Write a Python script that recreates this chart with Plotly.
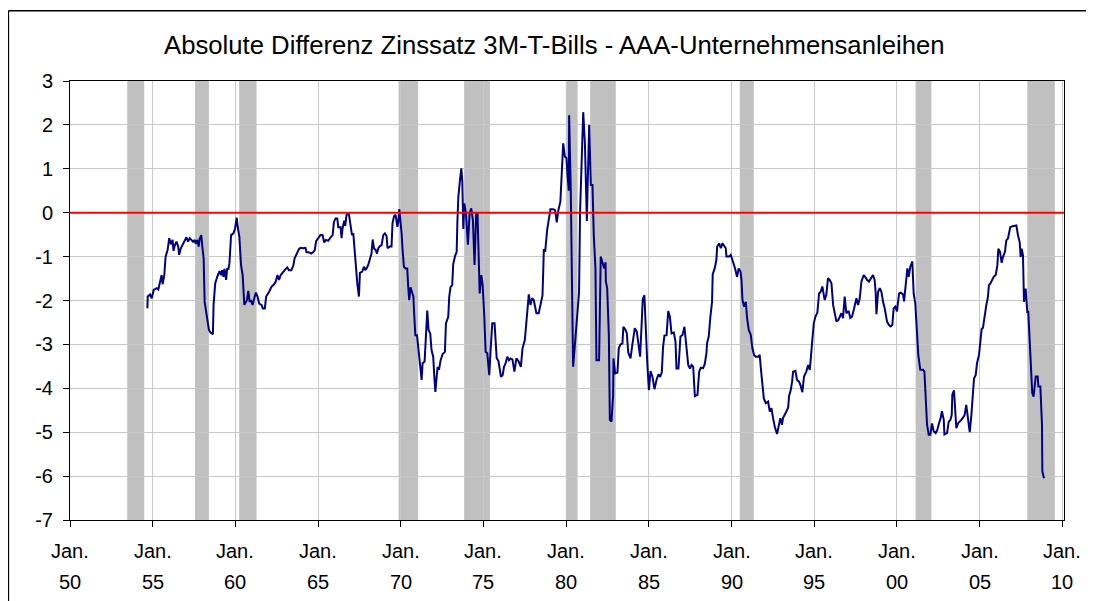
import plotly.graph_objects as go

title_text = "Absolute Differenz Zinssatz 3M-T-Bills - AAA-Unternehmensanleihen"

# decimal year of each read point
years = [
    1954.68, 1954.70, 1954.84, 1954.94, 1955.06, 1955.24, 1955.34, 1955.44, 1955.54, 1955.60,
    1955.70, 1955.78, 1955.90, 1956.00, 1956.10, 1956.20, 1956.26, 1956.34, 1956.44, 1956.54,
    1956.60, 1956.70, 1956.84, 1956.94, 1957.04, 1957.14, 1957.24, 1957.34, 1957.44, 1957.54,
    1957.60, 1957.70, 1957.78, 1957.84, 1957.94, 1958.00, 1958.08, 1958.14, 1958.24, 1958.34,
    1958.40, 1958.50, 1958.64, 1958.68, 1958.78, 1958.90, 1959.04, 1959.14, 1959.20, 1959.28,
    1959.34, 1959.44, 1959.50, 1959.58, 1959.64, 1959.74, 1959.88, 1959.98, 1960.08, 1960.14,
    1960.24, 1960.34, 1960.44, 1960.54, 1960.64, 1960.70, 1960.78, 1960.86, 1960.94, 1961.04,
    1961.14, 1961.24, 1961.34, 1961.44, 1961.58, 1961.66, 1961.78, 1961.86, 1962.04, 1962.18,
    1962.34, 1962.44, 1962.54, 1962.64, 1962.74, 1962.90, 1963.04, 1963.14, 1963.24, 1963.38,
    1963.50, 1963.58, 1963.70, 1963.84, 1963.94, 1964.10, 1964.24, 1964.30, 1964.44, 1964.58,
    1964.70, 1964.80, 1964.88, 1965.00, 1965.14,
    1965.27, 1965.37, 1965.47, 1965.61, 1965.76, 1965.88, 1965.96, 1966.06, 1966.16, 1966.22,
    1966.36, 1966.42, 1966.48, 1966.58, 1966.64, 1966.72, 1966.86, 1966.96, 1967.05, 1967.13,
    1967.21, 1967.27, 1967.37, 1967.47, 1967.53, 1967.67, 1967.77, 1967.85, 1967.93, 1968.03,
    1968.13, 1968.23, 1968.30, 1968.38, 1968.48, 1968.56, 1968.64, 1968.74, 1968.84, 1968.94,
    1969.04, 1969.14, 1969.20, 1969.34, 1969.44, 1969.50, 1969.59, 1969.69, 1969.79, 1969.85,
    1969.91, 1969.99, 1970.05, 1970.11, 1970.19, 1970.29, 1970.39, 1970.45, 1970.51, 1970.59,
    1970.67, 1970.76, 1970.82, 1970.88, 1970.98, 1971.06, 1971.16, 1971.26, 1971.32, 1971.44,
    1971.52, 1971.60, 1971.68, 1971.78, 1971.86, 1971.96, 1972.03, 1972.09, 1972.17, 1972.23,
    1972.31, 1972.41, 1972.53, 1972.67, 1972.73, 1972.87, 1972.93, 1973.01, 1973.11, 1973.17,
    1973.28, 1973.38, 1973.42, 1973.48, 1973.58, 1973.66, 1973.72, 1973.78, 1973.84, 1973.94,
    1974.06, 1974.16, 1974.26, 1974.36, 1974.46, 1974.56, 1974.64, 1974.70, 1974.77, 1974.87,
    1974.95, 1975.05, 1975.13, 1975.23, 1975.35, 1975.43, 1975.53, 1975.67, 1975.80, 1975.90,
    1976.00, 1976.06, 1976.16, 1976.24, 1976.34, 1976.44, 1976.54, 1976.64,
    1976.75, 1976.87, 1976.99, 1977.13, 1977.26, 1977.36, 1977.50, 1977.60, 1977.74, 1977.84,
    1977.94, 1978.04, 1978.20, 1978.34, 1978.46, 1978.57, 1978.65, 1978.73, 1978.85, 1978.95,
    1979.05, 1979.21, 1979.33, 1979.43, 1979.53, 1979.65, 1979.72, 1979.82, 1979.92, 1980.02,
    1980.08, 1980.16, 1980.18, 1980.28, 1980.36, 1980.42, 1980.56, 1980.68, 1980.78, 1980.84,
    1980.92, 1981.03, 1981.13, 1981.19, 1981.25, 1981.31, 1981.39, 1981.49, 1981.59, 1981.67,
    1981.77, 1981.83, 1981.99, 1982.09, 1982.19, 1982.30, 1982.38, 1982.40, 1982.48, 1982.58,
    1982.64, 1982.74, 1982.84, 1982.86, 1982.96, 1983.10, 1983.18, 1983.28, 1983.40, 1983.46,
    1983.59, 1983.67, 1983.75, 1983.89, 1984.01, 1984.15, 1984.27, 1984.37, 1984.47, 1984.57,
    1984.63, 1984.73, 1984.82, 1984.90, 1985.00, 1985.10, 1985.22, 1985.34, 1985.46, 1985.58,
    1985.68, 1985.78, 1985.86, 1985.94, 1986.07, 1986.17, 1986.27, 1986.37, 1986.51, 1986.61,
    1986.67, 1986.79, 1986.91, 1987.03, 1987.15, 1987.28, 1987.38, 1987.48, 1987.58, 1987.68,
    1987.78, 1987.94, 1988.04,
    1988.14, 1988.28, 1988.38, 1988.48, 1988.52, 1988.62, 1988.72, 1988.82, 1988.86, 1988.98,
    1989.08, 1989.13, 1989.25, 1989.35, 1989.45, 1989.55, 1989.65, 1989.69, 1989.85, 1989.95,
    1990.03, 1990.13, 1990.23, 1990.33, 1990.43, 1990.54, 1990.60, 1990.66, 1990.76, 1990.86,
    1990.94, 1991.04, 1991.16, 1991.26, 1991.36, 1991.46, 1991.60, 1991.70, 1991.80, 1991.95,
    1992.07, 1992.21, 1992.31, 1992.41, 1992.51, 1992.61, 1992.75, 1992.87, 1992.95, 1993.05,
    1993.11, 1993.26, 1993.42, 1993.48, 1993.58, 1993.66, 1993.72, 1993.86, 1993.96, 1994.08,
    1994.16, 1994.28, 1994.38, 1994.52, 1994.63, 1994.73, 1994.79, 1994.89, 1994.97, 1995.07,
    1995.19, 1995.29, 1995.39, 1995.49, 1995.57, 1995.63, 1995.73, 1995.83, 1995.93, 1996.04,
    1996.14, 1996.24, 1996.34, 1996.46, 1996.54, 1996.64, 1996.74, 1996.84, 1996.94, 1997.08,
    1997.18, 1997.28, 1997.39, 1997.55, 1997.65, 1997.75, 1997.85, 1997.99, 1998.11, 1998.19,
    1998.31, 1998.45, 1998.55, 1998.65, 1998.71, 1998.76, 1998.86, 1998.96, 1999.06, 1999.16,
    1999.26, 1999.40, 1999.52, 1999.62, 1999.72, 1999.80, 1999.90, 2000.00, 2000.13,
    2000.23, 2000.37, 2000.43, 2000.53, 2000.63, 2000.71, 2000.81, 2000.93, 2001.01, 2001.11,
    2001.21, 2001.29, 2001.41, 2001.58, 2001.66, 2001.74, 2001.82, 2001.92, 2002.02, 2002.12,
    2002.22, 2002.34, 2002.44, 2002.54, 2002.64, 2002.72, 2002.83, 2002.87, 2003.03, 2003.13,
    2003.23, 2003.31, 2003.35, 2003.45, 2003.53, 2003.59, 2003.69, 2003.79, 2003.89, 2003.99,
    2004.09, 2004.19, 2004.30, 2004.40, 2004.50, 2004.60, 2004.66, 2004.76, 2004.84, 2004.96,
    2005.04, 2005.12, 2005.20, 2005.30, 2005.40, 2005.50, 2005.56, 2005.65, 2005.75, 2005.85,
    2005.97, 2006.07, 2006.13, 2006.23, 2006.33, 2006.41, 2006.53, 2006.61, 2006.71, 2006.77,
    2006.85, 2006.98, 2007.12, 2007.22, 2007.32, 2007.42, 2007.48, 2007.54, 2007.62, 2007.68,
    2007.78, 2007.88, 2007.94, 2008.02, 2008.12, 2008.18, 2008.26, 2008.39, 2008.51, 2008.55,
    2008.67, 2008.77, 2008.79, 2008.89,
]

# spread 3M T-Bills minus AAA corporate bonds, percentage points
spread = [
    -2.18, -1.91, -1.86, -1.95, -1.76, -1.72, -1.75, -1.61, -1.42, -1.63,
    -1.43, -1.00, -0.85, -0.58, -0.72, -0.62, -0.87, -0.74, -0.66, -0.77,
    -0.96, -0.81, -0.70, -0.66, -0.56, -0.66, -0.58, -0.62, -0.66, -0.62,
    -0.71, -0.62, -0.77, -0.60, -0.51, -0.77, -1.04, -2.03, -2.26, -2.44,
    -2.67, -2.73, -2.77, -2.10, -1.61, -1.46, -1.33, -1.42, -1.31, -1.46,
    -1.28, -1.53, -1.28, -1.28, -1.15, -0.51, -0.47, -0.36, -0.11, -0.32,
    -0.55, -1.19, -1.42, -2.10, -2.03, -1.99, -1.78, -2.03, -1.99, -2.10,
    -1.95, -1.82, -1.91, -2.07, -2.10, -2.18, -2.18, -1.91, -1.80, -1.69,
    -1.63, -1.57, -1.42, -1.53, -1.42, -1.33, -1.28, -1.25, -1.31, -1.31,
    -1.21, -1.04, -0.93, -0.83, -0.80, -0.81, -0.80, -0.90, -0.90, -0.93,
    -0.90, -0.85, -0.65, -0.58, -0.51,
    -0.51, -0.68, -0.62, -0.64, -0.56, -0.51, -0.21, -0.13, -0.13, -0.33,
    -0.33, -0.58, -0.36, -0.18, -0.30, -0.05, -0.02, -0.26, -0.51, -0.47,
    -0.85, -1.27, -1.61, -1.91, -1.37, -1.34, -1.23, -1.31, -1.27, -1.19,
    -1.08, -0.93, -0.61, -0.81, -0.85, -0.93, -0.81, -0.76, -0.74, -0.51,
    -0.47, -0.53, -0.81, -0.77, -0.77, -0.24, -0.08, -0.05, -0.32, -0.21,
    0.08, -0.17, -0.47, -0.85, -1.23, -1.27, -1.27, -1.69, -1.99, -1.70,
    -1.80, -1.91, -2.37, -2.79, -2.79, -3.13, -3.39, -3.81, -3.43, -3.39,
    -2.82, -2.23, -2.67, -2.75, -3.13, -3.28, -3.74, -4.08, -3.74, -3.51,
    -3.58, -3.36, -3.22, -3.17, -2.52, -2.37, -1.91, -1.69, -1.65, -1.17,
    -0.99, -0.89, -0.24, 0.36, 0.74, 1.01, 0.71, -0.37, 0.21, -0.02,
    -0.73, -0.02, 0.10, -0.17, -1.19, -0.02, -0.02, -1.08, -1.84, -1.42,
    -1.65, -2.37, -3.17, -3.20, -3.70, -3.13, -2.52, -2.52, -3.32, -3.37,
    -3.58, -3.74, -3.70, -3.51, -3.43, -3.28, -3.36, -3.32,
    -3.34, -3.62, -3.32, -3.39, -3.51, -3.09, -2.90, -2.48, -1.86, -2.10,
    -1.95, -1.99, -2.29, -2.29, -2.07, -1.88, -0.83, -0.89, -0.39, -0.09,
    0.08, 0.08, 0.06, -0.22, 0.06, 0.25, 0.82, 1.58, 1.28, 1.24,
    0.86, 0.50, 2.22, 0.48, -1.88, -3.51, -2.86, -2.33, -1.80, 0.02,
    1.16, 2.29, 1.62, 0.71, -0.19, 0.78, 2.00, 0.63, 0.63, -0.51,
    -1.27, -3.36, -3.36, -1.00, -1.12, -1.27, -1.13, -1.57, -1.72, -2.79,
    -4.72, -4.76, -4.15, -3.32, -3.66, -3.64, -3.09, -3.00, -2.98, -2.60,
    -2.67, -2.75, -3.18, -3.32, -2.98, -2.63, -2.71, -3.01, -3.28, -2.48,
    -1.97, -1.88, -2.79, -3.39, -4.04, -3.61, -3.74, -4.02, -3.81, -3.68,
    -3.74, -3.64, -3.05, -2.80, -2.79, -2.24, -2.37, -2.75, -2.73, -2.94,
    -3.55, -3.55, -2.82, -2.79, -2.60, -3.09, -3.47, -3.55, -3.47, -3.51,
    -4.18, -4.15, -3.62,
    -3.53, -3.54, -3.45, -3.20, -2.97, -2.82, -2.37, -2.03, -1.40, -1.27,
    -1.08, -0.77, -0.70, -0.81, -0.70, -0.77, -0.81, -1.00, -1.00, -0.96,
    -1.08, -1.17, -1.30, -1.46, -1.27, -1.34, -1.53, -1.99, -2.14, -2.03,
    -2.40, -2.67, -2.78, -3.09, -3.24, -3.28, -3.28, -3.24, -3.66, -4.23,
    -4.34, -4.30, -4.53, -4.45, -4.68, -4.87, -5.04, -4.83, -4.68, -4.83,
    -4.68, -4.57, -4.44, -4.17, -4.04, -3.85, -3.62, -3.60, -3.81, -3.85,
    -3.92, -4.09, -3.73, -3.62, -3.47, -3.58, -3.28, -2.94, -2.52, -2.37,
    -2.27, -1.84, -1.80, -1.68, -1.87, -1.99, -1.87, -1.49, -1.53, -1.61,
    -2.10, -2.29, -2.48, -2.44, -2.37, -2.29, -2.40, -1.91, -2.29, -2.24,
    -2.40, -2.37, -2.21, -1.95, -2.10, -1.95, -1.57, -1.42, -1.48, -1.53,
    -1.57, -1.46, -1.42, -1.53, -1.80, -2.31, -1.80, -1.72, -1.80, -2.03,
    -2.18, -2.48, -2.56, -2.59, -2.56, -2.18, -2.14, -2.25, -1.84,
    -1.82, -1.86, -2.02, -1.54, -1.27, -1.46, -1.23, -1.11, -1.84, -2.07,
    -2.79, -3.24, -3.58, -3.58, -3.62, -4.38, -4.83, -5.06, -5.06, -4.80,
    -4.98, -5.02, -4.95, -4.80, -4.68, -4.52, -4.72, -5.05, -5.02, -4.76,
    -4.72, -4.61, -4.14, -4.05, -4.45, -4.91, -4.80, -4.77, -4.72, -4.67,
    -4.61, -4.38, -4.68, -5.00, -4.61, -4.15, -3.77, -3.70, -3.43, -3.24,
    -2.98, -2.65, -2.62, -2.33, -2.11, -1.92, -1.65, -1.61, -1.54, -1.46,
    -1.42, -1.20, -0.82, -0.89, -1.14, -1.01, -0.89, -0.63, -0.59, -0.50,
    -0.33, -0.31, -0.29, -0.29, -0.52, -0.67, -1.01, -0.82, -0.97, -2.03,
    -1.73, -2.26, -2.26, -2.86, -3.47, -4.11, -4.19, -3.73, -3.73, -3.96,
    -3.96, -4.83, -5.89, -6.05,
]

# recession periods (decimal years)
recession_start = [1953.46, 1957.56, 1960.23, 1969.87, 1973.83, 1979.98, 1981.45, 1990.50, 2001.13, 2007.88]
recession_end = [1954.49, 1958.40, 1961.28, 1971.05, 1975.39, 1980.69, 1983.00, 1991.34, 2002.08, 2009.55]

tick_years = [1950, 1955, 1960, 1965, 1970, 1975, 1980, 1985, 1990, 1995, 2000, 2005, 2010]
tick_month = "Jan."
tick_year_labels = ["50", "55", "60", "65", "70", "75", "80", "85", "90", "95", "00", "05", "10"]
y_ticks = [3, 2, 1, 0, -1, -2, -3, -4, -5, -6, -7]

X_MIN, X_MAX = 1950, 2010.1
Y_MIN, Y_MAX = -7, 3

FONT = "Arial, Liberation Sans, sans-serif"

fig = go.Figure()

fig.add_trace(go.Scatter(
    x=years, y=spread, mode="lines",
    line=dict(color="#000080", width=2),
    hoverinfo="x+y", showlegend=False,
))
fig.add_trace(go.Scatter(
    x=[X_MIN, X_MAX], y=[0, 0], mode="lines",
    line=dict(color="#ff0000", width=2),
    hoverinfo="skip", showlegend=False,
))

shapes = []
for s, e in zip(recession_start, recession_end):
    shapes.append(dict(type="rect", xref="x", yref="y", x0=s, x1=e, y0=Y_MIN, y1=Y_MAX,
                       fillcolor="#c0c0c0", line=dict(width=0), layer="below"))
# outer chart border: left and top edges (the rest lies outside the picture)
shapes.append(dict(type="line", xref="paper", yref="paper", x0=-0.062, x1=-0.062, y0=-0.3, y1=1.16,
                   line=dict(color="#000000", width=1.5), layer="above"))
shapes.append(dict(type="line", xref="paper", yref="paper", x0=-0.062, x1=1.2, y0=1.16, y1=1.16,
                   line=dict(color="#000000", width=1.5), layer="above"))

annotations = []
for ty, lab in zip(tick_years, tick_year_labels):
    annotations.append(dict(x=ty, xref="x", y=-0.0706, yref="paper", text=tick_month,
                            showarrow=False, xanchor="center", yanchor="middle",
                            font=dict(family=FONT, size=20, color="#000000")))
    annotations.append(dict(x=ty, xref="x", y=-0.1412, yref="paper", text=lab,
                            showarrow=False, xanchor="center", yanchor="middle",
                            font=dict(family=FONT, size=20, color="#000000")))

fig.update_layout(
    width=1086, height=593,
    margin=dict(l=62, r=30, t=73, b=81),
    paper_bgcolor="#ffffff", plot_bgcolor="#ffffff",
    title=dict(text=title_text, x=0.503, xanchor="center", y=0.9376, yanchor="middle",
               font=dict(family=FONT, size=25.7, color="#000000")),
    shapes=shapes,
    annotations=annotations,
    showlegend=False,
)
fig.update_xaxes(
    range=[X_MIN, X_MAX], tickvals=tick_years, showticklabels=False,
    ticks="outside", ticklen=6, tickcolor="#000000", tickwidth=1,
    showgrid=True, gridcolor="#c8c8c8", gridwidth=1,
    showline=True, linecolor="#000000", linewidth=1, mirror=True,
    zeroline=False,
)
fig.update_yaxes(
    range=[Y_MIN, Y_MAX], tickvals=y_ticks, ticktext=[str(v) for v in y_ticks],
    ticks="outside", ticklen=6, tickcolor="#000000", tickwidth=1,
    tickfont=dict(family=FONT, size=20, color="#000000"),
    showgrid=True, gridcolor="#c8c8c8", gridwidth=1,
    showline=True, linecolor="#000000", linewidth=1, mirror=True,
    zeroline=False, ticklabelstandoff=6,
)

fig.write_html("out.html")
